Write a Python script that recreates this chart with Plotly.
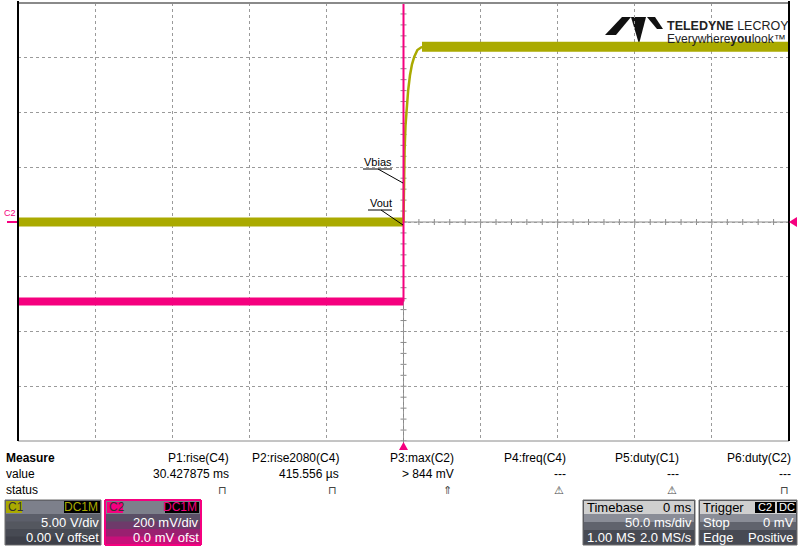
import plotly.graph_objects as go

# ---------------- data ----------------
# C1 (yellow) in volts, time in ms (50 ms/div, trigger at 0)
c1_pre_t = [-250, 0]
c1_pre_v = [0.0, 0.0]
c1_rise_t = [0, 0.3, 0.7, 1.3, 2.0, 3.0, 4.2, 5.5, 7.0, 9.0, 11.5, 14.0]
c1_rise_v = [0.0, 3.5, 6.5, 8.8, 10.4, 12.0, 13.4, 14.4, 15.1, 15.7, 15.95, 16.0]
c1_post_t = [12.0, 250]
c1_post_v = [16.0, 16.0]
# C2 (magenta) in mV
c2_pre_t = [-250, 0]
c2_pre_mv = [-290, -290]
c2_step_t = [0, 0]
c2_step_mv = [-290, 900]

measure_headers = ["P1:rise(C4)", "P2:rise2080(C4)", "P3:max(C2)",
                   "P4:freq(C4)", "P5:duty(C1)", "P6:duty(C2)"]
measure_values = ["30.427875 ms", "415.556 µs", "> 844 mV", "---", "---", "---"]
measure_status = ["⊓", "⊓", "⇑", "⚠", "⚠", "⊓"]

YEL = "#aaaa00"
MAG = "#f5007f"
FONT = "Liberation Sans"

# ---------------- geometry helpers ----------------
W, H = 800, 547
L, R, T, B = 18, 789, 3, 441


def fx(px):
    return (px - L) / (R - L)


def fy(py):
    return (B - py) / (B - T)


shapes = []
annotations = []


def rect(x0, y0, x1, y1, fill, line=None, lw=0, layer="above"):
    shapes.append(dict(type="rect", xref="paper", yref="paper",
                       x0=fx(x0), x1=fx(x1), y0=fy(y1), y1=fy(y0),
                       fillcolor=fill, line=dict(color=line or fill, width=lw),
                       layer=layer))


def seg(x0, y0, x1, y1, color, w=1, dash="solid"):
    shapes.append(dict(type="line", xref="paper", yref="paper",
                       x0=fx(x0), x1=fx(x1), y0=fy(y0), y1=fy(y1),
                       line=dict(color=color, width=w, dash=dash), layer="above"))


def poly(pts, color, layer="above"):
    d = "M " + " L ".join(f"{fx(a):.5f},{fy(b):.5f}" for a, b in pts) + " Z"
    shapes.append(dict(type="path", xref="paper", yref="paper", path=d,
                       fillcolor=color, line=dict(color=color, width=0), layer=layer))


def text(px, py, s, size=12, color="#000", anchor="left", bg=None, family=FONT):
    annotations.append(dict(x=fx(px), y=fy(py), xref="paper", yref="paper",
                            text=s, showarrow=False, xanchor=anchor, yanchor="middle",
                            font=dict(family=family, size=size, color=color),
                            bgcolor=bg, borderpad=0))


# ---------------- traces ----------------
fig = go.Figure()
fig.add_trace(go.Scatter(x=c2_pre_t, y=c2_pre_mv, yaxis="y2", mode="lines",
                         line=dict(color=MAG, width=8), hoverinfo="skip"))
fig.add_trace(go.Scatter(x=c2_step_t, y=c2_step_mv, yaxis="y2", mode="lines",
                         line=dict(color=MAG, width=2), hoverinfo="skip"))
fig.add_trace(go.Scatter(x=c1_pre_t, y=c1_pre_v, mode="lines",
                         line=dict(color=YEL, width=9), hoverinfo="skip"))
fig.add_trace(go.Scatter(x=c1_rise_t, y=c1_rise_v, mode="lines",
                         line=dict(color=YEL, width=2.5), hoverinfo="skip"))
fig.add_trace(go.Scatter(x=c1_post_t, y=c1_post_v, mode="lines",
                         line=dict(color=YEL, width=10), hoverinfo="skip"))

# ---------------- graticule ----------------
# centre cross
shapes.append(dict(type="line", xref="paper", yref="y", x0=0, x1=1, y0=0, y1=0,
                   line=dict(color="#8a8a8a", width=1), layer="below"))
shapes.append(dict(type="line", xref="x", yref="paper", x0=0, x1=0, y0=0, y1=1,
                   line=dict(color="#8a8a8a", width=1), layer="below"))
for i in range(-25, 26):
    t = i * 10
    shapes.append(dict(type="line", xref="x", yref="y", ysizemode="pixel", yanchor=0,
                       x0=t, x1=t, y0=-3, y1=3, line=dict(color="#8a8a8a", width=1),
                       layer="below"))
for i in range(-20, 21):
    shapes.append(dict(type="line", xref="x", yref="y", xsizemode="pixel", xanchor=0,
                       x0=-3, x1=3, y0=i, y1=i, line=dict(color="#8a8a8a", width=1),
                       layer="below"))
# borders
seg(L, T, R, T, "#8a8a8a", 2)
seg(L, B, R, B, "#8a8a8a", 1)
seg(L, T - 2, L, B, "#000000", 2)
seg(R, T - 2, R, B, "#000000", 2)
seg(403.5, B, 403.5, B + 2, "#8a8a8a", 1)

# channel / trigger markers
text(3, 213, "C2", size=9, color=MAG)
seg(7, 222, 17, 222, MAG, 2)
poly([(789, 222), (797, 217), (797, 227)], MAG)
poly([(403.5, 442), (399, 450), (408, 450)], MAG)

# Vbias / Vout labels
text(363, 162, "Vbias", size=11, color="#000")
seg(363, 169, 392, 169, "#000", 1)
seg(378, 169, 403, 183, "#000", 1)
text(369, 203, "Vout", size=11, color="#000")
seg(368, 210, 392, 210, "#000", 1)
seg(381, 210, 403, 225, "#000", 1)

# ---------------- logo ----------------
rect(600, 12, 788, 40, "#ffffff", layer="between")
poly([(622, 17), (631, 17), (616, 35), (605, 35)], "#111111", layer="between")
poly([(631, 17), (646, 17), (639, 44)], "#111111", layer="between")
poly([(647, 17), (655, 17), (663, 29), (657, 29)], "#111111", layer="between")
text(666, 26, "<b>TELEDYNE</b> LECROY", size=12.5, color="#222")
text(666, 39, "Everywhere<b>you</b>look™", size=12, color="#222")

# ---------------- measure table ----------------
text(5, 458, "<b>Measure</b>", size=12)
text(5, 474, "value", size=12)
text(5, 490, "status", size=12)
col_right = [230, 340, 455, 567, 680, 792]
for xr, h, v, s in zip(col_right, measure_headers, measure_values, measure_status):
    text(xr, 458, h, size=12, anchor="right")
    text(xr, 474, v, size=12, anchor="right")
    text(xr - 2, 490, s, size=11, color="#444", anchor="right")

# ---------------- channel boxes ----------------
def dark_box(x0, x1, bottom_colors, border):
    rect(x0, 500, x1, 545, "#5a5d68", border, 1)
    rect(x0 + 1, 501, x1 - 1, 514, "#7d808b")
    n = len(bottom_colors)
    h = (544 - 514) / n
    for k, c in enumerate(bottom_colors):
        rect(x0 + 1, 514 + k * h, x1 - 1, 514 + (k + 1) * h + 0.5, c)


dark_box(5, 101, ["#5c5f6a", "#54575f", "#474a53", "#3e4049"], "#6a6a6a")
rect(6, 501, 22, 513, YEL)
text(7, 507, "C1", size=12, color="#333")
rect(64, 501, 100, 513, "#000000")
text(99, 507, "DC1M", size=12, color=YEL, anchor="right")
text(100, 522, "5.00 V/div", size=13, color="#fff", anchor="right")
text(100, 537, "0.00 V offset", size=13, color="#fff", anchor="right")

dark_box(105, 201, ["#5a4f66", "#6e3a6a", "#9a2070", "#c8107a"], MAG)
seg(105, 500, 105, 545, MAG, 2)
seg(201, 500, 201, 545, MAG, 2)
seg(105, 500, 201, 500, MAG, 2)
seg(105, 545, 201, 545, MAG, 2)
rect(107, 502, 123, 513, MAG)
text(108, 507, "C2", size=12, color="#333")
rect(165, 502, 199, 513, "#000000")
text(198, 507, "DC1M", size=12, color=MAG, anchor="right")
text(200, 522, "200 mV/div", size=13, color="#fff", anchor="right")
text(200, 537, "0.0 mV ofst", size=13, color="#fff", anchor="right")

# timebase box
rect(583, 500, 695, 545, "#4a4d57", "#6a6a6a", 1)
rect(584, 501, 694, 514, "#cfcfcf")
rect(584, 514, 694, 522, "#8a8d97")
rect(584, 522, 694, 530, "#60636d")
rect(584, 530, 694, 544, "#474a53")
text(586, 507, "Timebase", size=13, color="#000")
text(693, 507, "0 ms", size=13, color="#000", anchor="right")
text(693, 522, "50.0 ms/div", size=13, color="#fff", anchor="right")
text(586, 537, "1.00 MS", size=13, color="#fff")
text(693, 537, "2.0 MS/s", size=13, color="#fff", anchor="right")

# trigger box
rect(699, 500, 797, 545, "#4a4d57", "#6a6a6a", 1)
rect(700, 501, 796, 514, "#cfcfcf")
rect(700, 514, 796, 522, "#8a8d97")
rect(700, 522, 796, 530, "#60636d")
rect(700, 530, 796, 544, "#474a53")
text(702, 507, "Trigger", size=13, color="#000")
rect(755, 502, 775, 513, "#000000")
text(765, 507, "C2", size=11, color="#fff", anchor="center")
rect(777, 502, 796, 513, "#000000")
text(786.5, 507, "DC", size=11, color="#fff", anchor="center")
text(702, 522, "Stop", size=13, color="#fff")
text(795, 522, "0 mV", size=13, color="#fff", anchor="right")
text(702, 537, "Edge", size=13, color="#fff")
text(795, 537, "Positive", size=13, color="#fff", anchor="right")

# ---------------- layout ----------------
fig.update_layout(
    width=W, height=H,
    margin=dict(l=L, r=W - R, t=T, b=H - B, pad=0),
    paper_bgcolor="#ffffff", plot_bgcolor="#ffffff",
    showlegend=False,
    xaxis=dict(range=[-250, 250], tick0=-250, dtick=50, showgrid=True,
               gridcolor="#9a9a9a", griddash="dot", gridwidth=1,
               showticklabels=False, zeroline=False, ticks="", fixedrange=True),
    yaxis=dict(range=[-20, 20], tick0=-20, dtick=5, showgrid=True,
               gridcolor="#9a9a9a", griddash="dot", gridwidth=1,
               showticklabels=False, zeroline=False, ticks="", fixedrange=True),
    yaxis2=dict(range=[-800, 800], overlaying="y", visible=False,
                showgrid=False, zeroline=False),
    shapes=shapes,
    annotations=annotations,
    font=dict(family=FONT),
)

fig.write_html("out.html", config={"displayModeBar": False},
               post_script="document.body.style.margin='0px';"
                           "document.body.style.overflow='hidden';")
